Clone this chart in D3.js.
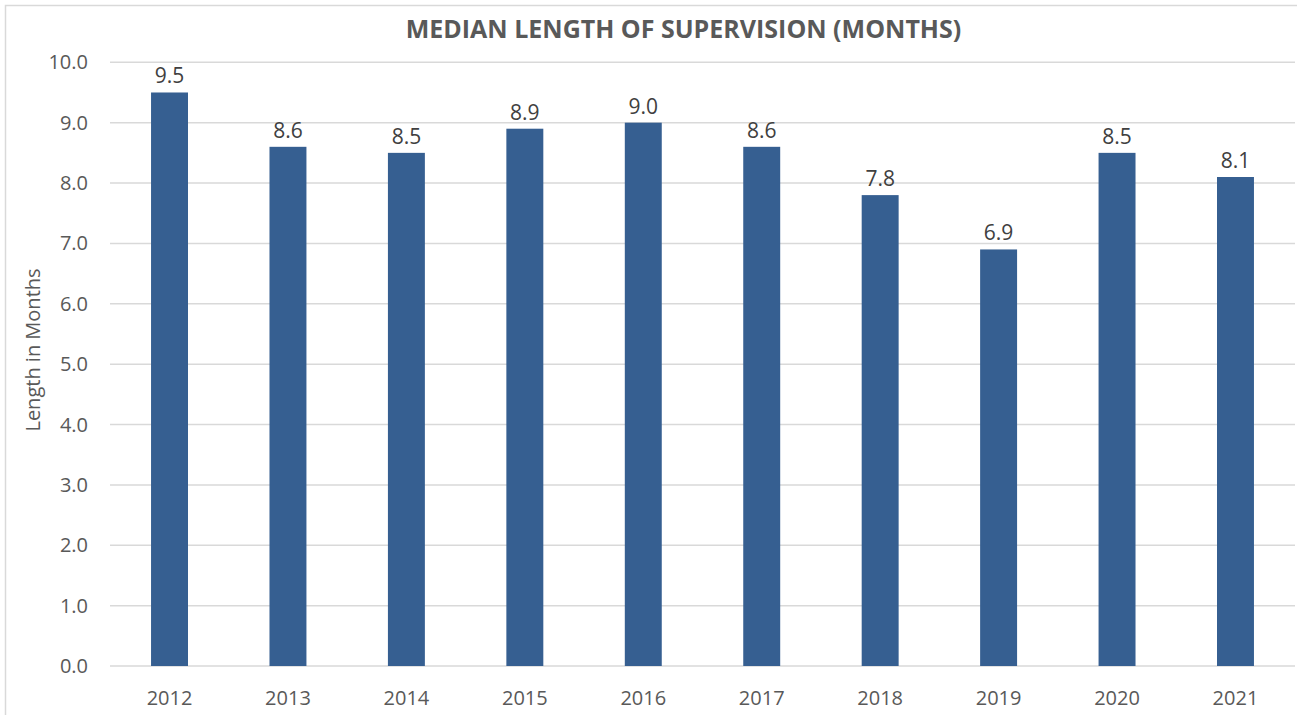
<!DOCTYPE html>
<html><head><meta charset="utf-8">
<script src="https://cdn.jsdelivr.net/npm/d3@7"></script>
<style>
body{margin:0;background:#fff;}
text{font-family:"Open Sans","Liberation Sans",sans-serif;}
</style></head>
<body><svg id="c" width="1297" height="715"></svg>
<script>
const categories = ["2012","2013","2014","2015","2016","2017","2018","2019","2020","2021"];
const values = [9.5,8.6,8.5,8.9,9.0,8.6,7.8,6.9,8.5,8.1];
const yTicks = [0,1,2,3,4,5,6,7,8,9,10];
const title = "MEDIAN LENGTH OF SUPERVISION (MONTHS)";
const yLabel = "Length in Months";

const svg = d3.select("#c");
svg.append("rect").attr("x",5.5).attr("y",5.5).attr("width",1300).attr("height",720)
  .attr("fill","#fff").attr("stroke","#d9d9d9").attr("stroke-width",1.5);

const x = d3.scaleBand().domain(categories).range([110.3,1294.7]).paddingInner(0.688).paddingOuter(0.344);
const y = d3.scaleLinear().domain([0,10]).range([666,62.3]);

const grid = svg.append("g");
grid.selectAll("line").data(yTicks).join("line")
  .attr("x1",110).attr("x2",1295)
  .attr("y1",d=>y(d)).attr("y2",d=>y(d))
  .attr("stroke","#d9d9d9").attr("stroke-width",1.5);

svg.append("g").selectAll("text").data(yTicks).join("text")
  .attr("x",88).attr("y",d=>y(d)+7)
  .attr("text-anchor","end").attr("fill","#595959").attr("font-size",20)
  .text(d=>d3.format(".1f")(d));

svg.append("g").selectAll("rect").data(values).join("rect")
  .attr("x",(d,i)=>x(categories[i])).attr("width",x.bandwidth())
  .attr("y",d=>y(d)).attr("height",d=>y(0)-y(d))
  .attr("fill","#365f91");

svg.append("g").selectAll("text").data(values).join("text")
  .attr("x",(d,i)=>x(categories[i])+x.bandwidth()/2).attr("y",d=>y(d)-9)
  .attr("text-anchor","middle").attr("fill","#404040").attr("font-size",21)
  .text(d=>d3.format(".1f")(d));

svg.append("g").selectAll("text").data(categories).join("text")
  .attr("x",d=>x(d)+x.bandwidth()/2).attr("y",705)
  .attr("text-anchor","middle").attr("fill","#595959").attr("font-size",20)
  .text(d=>d);

svg.append("text").attr("x",683.5).attr("y",38).attr("text-anchor","middle")
  .attr("fill","#595959").attr("font-size",25).attr("font-weight","bold").text(title);

svg.append("text").attr("transform","translate(40,350) rotate(-90)").attr("text-anchor","middle")
  .attr("fill","#595959").attr("font-size",20).text(yLabel);
</script></body></html>
